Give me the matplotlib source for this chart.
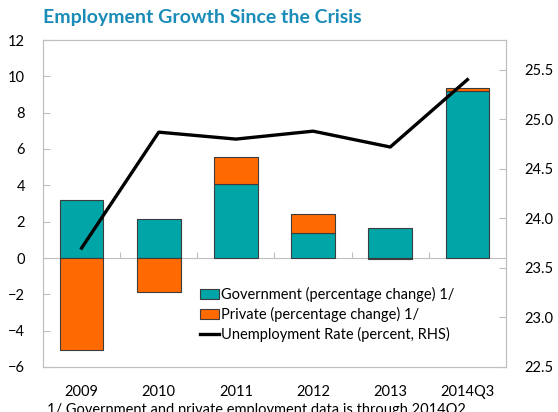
import matplotlib

matplotlib.use("Agg")
import matplotlib.pyplot as plt
import numpy as np
from matplotlib.lines import Line2D
from matplotlib.patches import Patch

plt.rcParams["font.family"] = ["Lato", "DejaVu Sans"]

# data
categories = ["2009", "2010", "2011", "2012", "2013", "2014Q3"]
government = [3.2, 2.15, 4.1, 1.35, 1.65, 9.2]
private = [-5.05, -1.85, 1.45, 1.05, -0.05, 0.15]
unemployment = [23.7, 24.87, 24.8, 24.88, 24.72, 25.4]

TEAL = "#00A5A8"
ORANGE = "#FF6A00"
EDGE = "#3c3c3c"
GRID_GRAY = "#BFBFBF"
TITLE_BLUE = "#1A8CB8"


def main() -> None:
    fig = plt.figure(figsize=(5.58, 4.12), dpi=100)
    ax = fig.add_axes([43 / 558, 45 / 412, 463 / 558, 327 / 412])

    x = np.arange(len(categories))
    gov = np.array(government)
    priv = np.array(private)
    # private stacks on top of government when positive, below zero when negative
    priv_bottom = np.where(priv >= 0, gov, 0.0)

    width = 0.565
    ax.bar(x, gov, width, color=TEAL, edgecolor=EDGE, linewidth=0.8, zorder=2)
    ax.bar(x, priv, width, bottom=priv_bottom, color=ORANGE, edgecolor=EDGE,
           linewidth=0.8, zorder=2)

    ax.set_xlim(-0.5, len(categories) - 0.5)
    ax.set_ylim(-6, 12)
    ax.set_yticks(np.arange(-6, 13, 2))
    ax.set_xticks(x, labels=categories)
    ax.tick_params(axis="x", length=0, pad=13, labelsize=10.5)
    ax.tick_params(axis="y", direction="in", length=5, color=GRID_GRAY,
                   pad=13, labelsize=10.5)
    for spine in ax.spines.values():
        spine.set_color(GRID_GRAY)

    # zero line with category separators
    zero = ax.secondary_xaxis(6 / 18)
    zero.set_xticks(x[:-1] + 0.5)
    zero.tick_params(direction="in", length=4, color=GRID_GRAY, labelbottom=False)
    zero.spines["bottom"].set_color(GRID_GRAY)

    ax2 = ax.twinx()
    ax2.plot(x, unemployment, color="black", linewidth=2.4, zorder=3)
    ax2.set_ylim(22.5, 25.8)
    ax2.set_yticks(np.arange(22.5, 25.6, 0.5))
    ax2.set_yticklabels([f"{v:.1f}" for v in np.arange(22.5, 25.6, 0.5)])
    ax2.tick_params(axis="y", direction="in", length=5, color=GRID_GRAY,
                    pad=13, labelsize=10.5)
    for spine in ax2.spines.values():
        spine.set_color(GRID_GRAY)

    handles = [
        Patch(facecolor=TEAL, edgecolor=EDGE, linewidth=0.8),
        Patch(facecolor=ORANGE, edgecolor=EDGE, linewidth=0.8),
        Line2D([0], [0], color="black", linewidth=2.4),
    ]
    labels = [
        "Government (percentage change) 1/",
        "Private (percentage change) 1/",
        "Unemployment Rate (percent, RHS)",
    ]
    fig.legend(handles, labels, loc="upper left",
               bbox_to_anchor=(200 / 558, (412 - 287) / 412),
               frameon=False, fontsize=10.5, borderpad=0, borderaxespad=0,
               handlelength=1.3, handleheight=0.75, handletextpad=0.15,
               labelspacing=0.35)

    fig.text(43 / 558, (412 - 18) / 412, "Employment Growth Since the Crisis",
             color=TITLE_BLUE, fontsize=14, fontweight="bold", va="center")
    # footnote sits at the very bottom edge and is partly cut off, as in the source
    fig.text(47 / 558, (412 - 403) / 412,
             "1/ Government and private employment data is through 2014Q2.",
             fontsize=10.5, va="top")

    fig.savefig("out.png", dpi=100)
    plt.close(fig)


if __name__ == "__main__":
    main()
